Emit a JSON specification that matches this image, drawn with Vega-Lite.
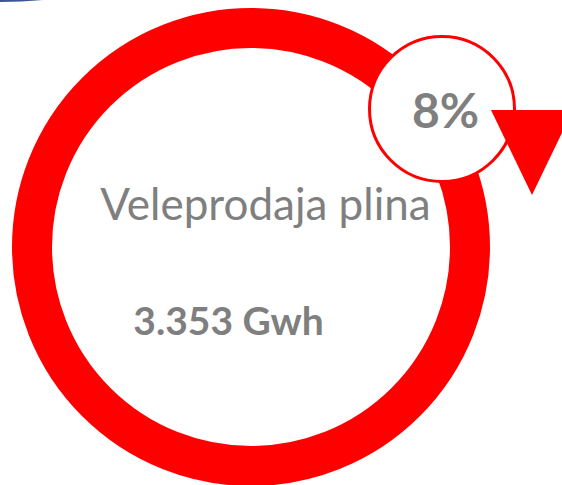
{
  "$schema": "https://vega.github.io/schema/vega-lite/v6.json",
  "width": 562,
  "height": 485,
  "padding": 0,
  "autosize": {"type": "none"},
  "background": "white",
  "config": {"view": {"stroke": null}},
  "encoding": {
    "x": {"field": "x", "type": "quantitative", "scale": {"domain": [0, 562], "nice": false, "zero": false}, "axis": null},
    "y": {"field": "y", "type": "quantitative", "scale": {"domain": [0, 485], "nice": false, "zero": false, "reverse": true}, "axis": null}
  },
  "layer": [
    {
      "data": {"values": [{"shape": "arc", "x": 0, "y": -461}]},
      "mark": {"type": "point", "shape": "circle", "filled": true, "fill": "#3a5590", "strokeWidth": 0, "opacity": 1, "size": 857476}
    },
    {
      "data": {"values": [{"shape": "ring", "x": 251, "y": 247}]},
      "mark": {"type": "point", "shape": "circle", "filled": false, "stroke": "#ff0000", "strokeWidth": 40, "opacity": 1, "size": 191844}
    },
    {
      "data": {"values": [{"shape": "badge", "x": 442, "y": 109}]},
      "mark": {"type": "point", "shape": "circle", "filled": true, "fill": "white", "stroke": "#ff0000", "strokeWidth": 3, "opacity": 1, "size": 21025}
    },
    {
      "data": {"values": [{"shape": "arrow", "x": 532, "y": 152.5}]},
      "mark": {"type": "point", "shape": "M -1 -1.037 L 1 -1.037 L 0 1.037 Z", "filled": true, "fill": "#ff0000", "strokeWidth": 0, "opacity": 1, "size": 6724}
    },
    {
      "data": {"values": [{"label": "8%", "x": 445.5, "y": 128}]},
      "mark": {"type": "text", "font": "Lato", "fontWeight": "bold", "fontSize": 48, "fill": "#7f7f7f", "align": "center", "baseline": "alphabetic"},
      "encoding": {"text": {"field": "label"}}
    },
    {
      "data": {"values": [{"label": "Veleprodaja plina", "x": 265.5, "y": 220}]},
      "mark": {"type": "text", "font": "Lato", "fontSize": 44, "fill": "#7f7f7f", "align": "center", "baseline": "alphabetic"},
      "encoding": {"text": {"field": "label"}}
    },
    {
      "data": {"values": [{"label": "3.353 Gwh", "x": 228.5, "y": 335}]},
      "mark": {"type": "text", "font": "Lato", "fontWeight": "bold", "fontSize": 39, "fill": "#7f7f7f", "align": "center", "baseline": "alphabetic"},
      "encoding": {"text": {"field": "label"}}
    }
  ]
}
